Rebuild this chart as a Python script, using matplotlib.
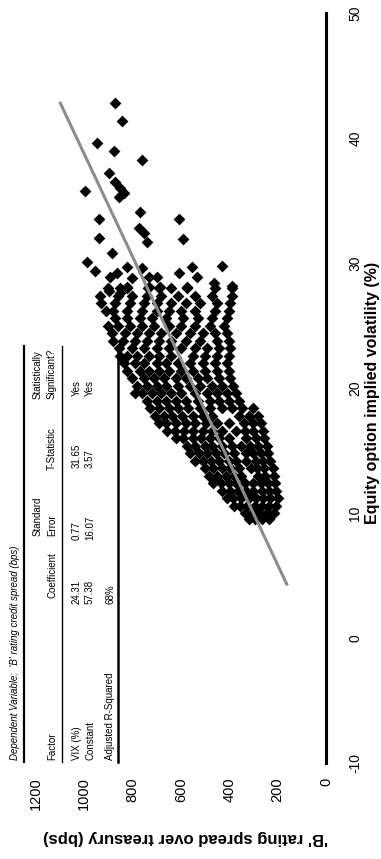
import matplotlib
matplotlib.use("Agg")
import matplotlib.pyplot as plt
from matplotlib.lines import Line2D

# ---------------- data ----------------
vol_ticks = [-10, 0, 10, 20, 30, 40, 50]
spread_ticks = [0, 200, 400, 600, 800, 1000, 1200]

# dense cloud, read row by row: implied vol (%) and the spreads (bps) seen on that row
row_vol = [9.5, 10.0, 10.6, 11.2, 11.8, 12.4, 13.0, 13.6, 14.2, 14.8, 15.4, 16.0,
           16.6, 17.2, 17.8, 18.4, 19.0, 19.6, 20.2, 20.8, 21.4, 22.0, 22.6, 23.2,
           23.8, 24.4, 25.0, 25.6, 26.2, 26.8, 27.4, 28.0]
row_spreads = [
    [235, 265, 295, 320],
    [215, 245, 275, 305, 335],
    [205, 235, 265, 295, 325, 355, 380],
    [200, 230, 260, 290, 320, 350, 385, 410],
    [205, 235, 265, 300, 330, 365, 395, 430],
    [210, 240, 270, 300, 335, 370, 400, 435, 465],
    [215, 250, 280, 350, 380, 415, 450, 485],
    [220, 255, 285, 310, 360, 395, 430, 465, 500],
    [230, 260, 290, 330, 370, 400, 440, 475, 510, 540],
    [240, 270, 300, 330, 380, 420, 455, 490, 525, 560],
    [245, 280, 315, 350, 390, 430, 470, 500, 540, 575],
    [255, 290, 330, 400, 440, 480, 515, 550, 590, 620],
    [260, 300, 335, 370, 430, 470, 510, 550, 585, 625, 655],
    [270, 300, 340, 400, 450, 495, 540, 580, 620, 660, 690],
    [280, 320, 360, 470, 510, 550, 595, 635, 670, 705],
    [300, 345, 390, 430, 480, 520, 570, 610, 650, 690, 725],
    [360, 400, 440, 480, 530, 580, 620, 660, 700, 740],
    [370, 410, 450, 490, 540, 600, 640, 680, 720, 760, 790],
    [385, 430, 470, 520, 560, 610, 660, 700, 740, 780],
    [395, 440, 490, 530, 580, 620, 670, 710, 750, 800],
    [400, 450, 500, 550, 600, 650, 690, 730, 770, 820],
    [410, 460, 510, 560, 610, 660, 700, 750, 790, 835],
    [400, 450, 500, 550, 640, 690, 730, 780, 820, 850],
    [395, 440, 490, 540, 600, 650, 700, 750, 800, 855],
    [400, 450, 520, 580, 640, 690, 740, 790, 840, 880],
    [410, 460, 510, 560, 620, 680, 730, 780, 830, 885],
    [420, 480, 540, 600, 650, 710, 760, 810, 860, 900],
    [410, 470, 530, 590, 660, 720, 770, 820, 870],
    [400, 460, 540, 600, 650, 700, 760, 820, 880, 910],
    [395, 450, 520, 580, 640, 700, 750, 810, 870, 930],
    [390, 470, 540, 610, 680, 740, 800, 860, 935],
    [390, 460, 575, 640, 690, 735, 820, 850, 900],
]

# sparse upper points
upper_vol = [42.8, 41.4, 39.6, 39.0, 38.2, 37.2, 35.8, 36.5, 36.0, 35.6, 35.3, 34.1,
             33.5, 33.5, 32.8, 32.4, 31.7, 32.0, 31.9, 30.8, 29.8, 30.1, 29.4, 29.2,
             29.7, 28.8, 28.9, 29.6, 28.9, 28.9, 29.7, 28.9, 28.1, 28.4, 28.2, 29.2,
             28.1, 28.1, 27.8, 27.6, 28.1]
upper_spread = [870, 843, 946, 877, 760, 898, 995, 870, 850, 833, 857, 767,
                939, 608, 774, 753, 739, 937, 590, 884, 428, 988, 953, 864,
                822, 801, 891, 760, 732, 698, 553, 532, 573, 463, 387, 608,
                684, 732, 898, 850, 822]

# regression (from the table)
coef_vix = 24.31
coef_const = 57.38
fit_vol = [4.2, 42.9]

table_header = "Dependent Variable:  'B' rating credit spread (bps)"
factors = ["VIX (%)", "Constant", "Adjusted R-Squared"]
coefs = ["24.31", "57.38", "68%"]
std_err = ["0.77", "16.07"]
t_stat = ["31.65", "3.57"]
signif = ["Yes", "Yes"]

# ---------------- figure ----------------
W, H = 381, 859
fig = plt.figure(figsize=(W / 100, H / 100), dpi=100)
plt.rcParams["font.family"] = ["Liberation Sans", "DejaVu Sans"]


def fx(px):
    return px / W


def fy(py):
    return 1 - py / H


ax = fig.add_axes([fx(35.5), fy(763), fx(326) - fx(35.5), fy(13) - fy(763)])
ax.set_xlim(1200, 0)
ax.set_ylim(-10, 50)

xs, ys = [], []
for v, sp in zip(row_vol, row_spreads):
    for s in sp:
        xs.append(s)
        ys.append(v)
xs += upper_spread
ys += upper_vol
ax.scatter(xs, ys, marker="D", s=36, c="black", linewidths=0, zorder=2)

fit_spread = [coef_vix * v + coef_const for v in fit_vol]
ax.plot(fit_spread, fit_vol, color="#8c8c8c", lw=2.2, zorder=3, solid_capstyle="butt")

for sp in ["top", "left", "bottom"]:
    ax.spines[sp].set_visible(False)
ax.spines["right"].set_linewidth(2.2)
ax.set_facecolor("none")

ax.set_xticks(spread_ticks)
ax.set_xticklabels([str(t) for t in spread_ticks], rotation=90)
ax.tick_params(axis="x", length=0, pad=10.5, labelsize=10.5)

ax.yaxis.tick_right()
ax.set_yticks(vol_ticks)
ax.set_yticklabels([str(t) for t in vol_ticks], rotation=90)
ax.tick_params(axis="y", length=0, pad=16, labelsize=10)
for lbl in ax.get_yticklabels():
    lbl.set_va("center")

fig.text(fx(364.5), fy(393), "Equity option implied volatility (%)", rotation=90,
         ha="left", va="center", fontweight="bold", fontsize=11.5)
fig.text(fx(185), fy(838), "'B' rating spread over treasury (bps)", rotation=180,
         ha="center", va="center", fontweight="bold", fontsize=12)

# ---------------- regression table ----------------
TS = 7


def ttext(xp, yp, s, ha="left", **kw):
    fig.text(fx(xp), fy(yp), s, rotation=90, rotation_mode="anchor",
             ha=ha, va="center", fontsize=TS, **kw)


ttext(15, 760, table_header, style="italic")
ttext(38, 536, "Standard")
ttext(38, 399, "Statistically")
ttext(52, 760, "Factor")
ttext(52, 598, "Coefficient")
ttext(52, 536, "Error")
ttext(52, 470, "T-Statistic")
ttext(52, 399, "Significant?")

row_x = [77, 90, 110]
for i, f in enumerate(factors):
    ttext(row_x[i], 760, f)
    ttext(row_x[i], 604, coefs[i])
for i in range(2):
    ttext(row_x[i], 540, std_err[i])
    ttext(row_x[i], 468, t_stat[i])
    ttext(row_x[i], 396, signif[i])

for xp, lw in [(24, 1.6), (62, 1.0), (118, 1.8)]:
    fig.add_artist(Line2D([fx(xp), fx(xp)], [fy(762), fy(346)], color="black", lw=lw))

fig.savefig("out.png", dpi=100)
